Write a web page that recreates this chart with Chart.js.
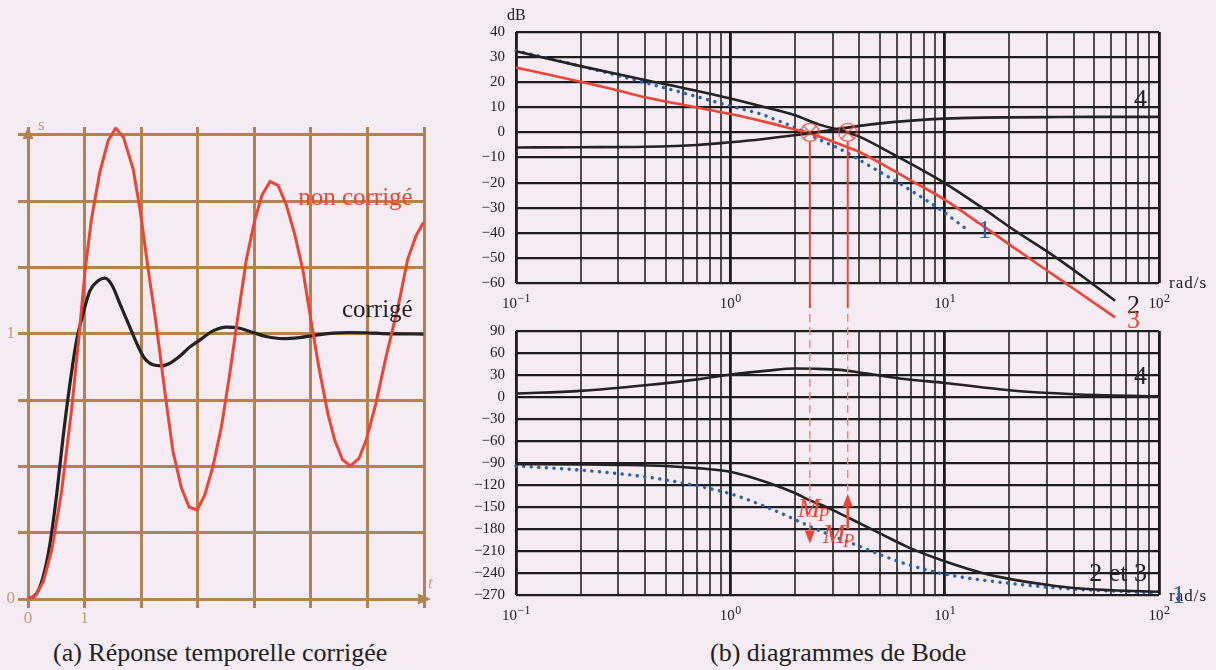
<!DOCTYPE html>
<html lang="fr">
<head>
<meta charset="utf-8">
<title>Correction : réponse temporelle et Bode</title>
<script src="https://cdn.jsdelivr.net/npm/chart.js@4.4.1/dist/chart.umd.min.js"></script>
<style>
html,body{margin:0;padding:0;background:#f5ebf3;}
#page{position:relative;width:1216px;height:670px;overflow:hidden;}
#page canvas{position:absolute;}
.cap{position:absolute;top:640px;font:26px/26px "Liberation Serif",serif;color:#222;white-space:nowrap;}
</style>
</head>
<body>
<div id="page">
  <canvas id="timeChart" width="460" height="630" style="left:0;top:0"></canvas>
  <canvas id="magChart" width="756" height="335" style="left:460px;top:0"></canvas>
  <canvas id="phaseChart" width="756" height="320" style="left:460px;top:310px"></canvas>
  <div class="cap" style="left:53px">(a) Réponse temporelle corrigée</div>
  <div class="cap" style="left:710px">(b) diagrammes de Bode</div>
</div>
<script>
// ---- step response (t, s) ----
const T_TICKS = [0,1,2,3,4,5,6,7];
const S_TICKS = [0,0.25,0.5,0.75,1,1.25,1.5,1.75];
const T_RED = [0,0.13,0.27,0.42,0.59,0.77,0.89,1.01,1.12,1.27,1.42,1.55,1.69,1.86,1.98,2.12,2.27,2.42,2.56,2.71,2.85,2.99,3.12,3.27,3.42,3.56,3.71,3.86,4.01,4.14,4.28,4.42,4.56,4.71,4.86,5.01,5.15,5.3,5.42,5.56,5.7,5.85,5.98,6.15,6.33,6.54,6.71,6.86,6.99];
const S_RED = [0,0.012,0.065,0.185,0.40,0.713,0.965,1.24,1.43,1.61,1.73,1.776,1.74,1.62,1.47,1.25,1.03,0.78,0.56,0.42,0.346,0.336,0.39,0.50,0.65,0.84,1.065,1.28,1.43,1.525,1.575,1.56,1.49,1.38,1.24,1.04,0.864,0.70,0.60,0.525,0.502,0.53,0.60,0.738,0.914,1.10,1.28,1.37,1.42];
const T_BLK = [0,0.15,0.27,0.39,0.51,0.62,0.74,0.86,0.98,1.09,1.24,1.36,1.48,1.62,1.77,1.92,2.06,2.21,2.36,2.51,2.68,2.86,3.04,3.27,3.51,3.74,3.98,4.21,4.51,4.8,5.09,5.39,5.68,5.98,6.27,6.56,6.99];
const S_BLK = [0,0.02,0.085,0.21,0.40,0.61,0.81,0.977,1.08,1.16,1.20,1.21,1.185,1.116,1.04,0.965,0.908,0.883,0.879,0.889,0.915,0.95,0.977,1.011,1.025,1.021,1.005,0.99,0.982,0.986,0.995,1.003,1.005,1.004,1.001,1.0,0.999];

// ---- Bode (rad/s) ----
const W_TICKS = [0.1,0.2,0.3,0.4,0.5,0.6,0.7,0.8,0.9,1,2,3,4,5,6,7,8,9,10,20,30,40,50,60,70,80,90,100];
const DB_TICKS = [-60,-50,-40,-30,-20,-10,0,10,20,30,40];
const DEG_TICKS = [-270,-240,-210,-180,-150,-120,-90,-60,-30,0,30,60,90];
// gain curves
const W_G1 = [0.1,0.15,0.2,0.3,0.4,0.6,0.8,1,1.4,1.7,2,2.24,2.67,3.14,3.55,3.9,4.64,6.65,9.55,12.4];
const G1   = [32.5,29.0,26.4,22.6,19.8,15.8,12.8,10.5,7.2,4.4,2.0,0,-3.3,-6.0,-8.4,-10.4,-14.2,-22.1,-30.8,-38.0];
const W_G2 = [0.1,0.2,0.4,0.67,1,1.5,2,2.6,3.53,4,5.8,10,14.6,20.9,32,44.3,62.4];
const G2   = [32.3,26.4,20.9,16.9,13.5,9.7,6.8,3.1,0,-1.7,-8.9,-20.2,-29.4,-38.7,-49.0,-57.6,-67.1];
const W_G3 = [0.1,0.15,0.2,0.3,0.4,0.6,0.8,1,1.5,2,2.35,3,3.5,4,5,6.65,8,10,14.6,20,30,40,62.4];
const G3   = [25.8,22.6,20.2,16.7,14.0,11.0,8.9,7.3,3.9,1.2,-0.3,-3.6,-5.8,-7.8,-12.2,-18.2,-22.0,-26.8,-36.4,-44.6,-55.0,-62.3,-73.7];
const W_G4 = [0.1,0.2,0.4,0.7,1,1.4,2,2.5,3.3,4,5,7,10,15,20,30,50,100];
const G4   = [-6.0,-5.9,-5.7,-5.0,-3.9,-2.7,-1.1,0,1.6,2.6,3.6,4.7,5.5,5.9,6.0,6.1,6.2,6.2];
// phase curves
const W_P1 = [0.1,0.2,0.4,0.67,1,1.5,2,2.5,3,3.5,4,5,6.65,10,20,40,100];
const P1   = [-94,-99.7,-108.8,-120,-132,-151,-167,-180,-189.5,-197,-203.5,-215,-228,-241.5,-254,-262,-267];
const W_P23 = [0.1,0.2,0.3,0.5,0.7,1,1.5,2,2.35,2.8,3.25,3.55,4,5,6.65,10,15,20,30,40,60,100];
const P23   = [-91.5,-92,-92.5,-94,-97,-102,-117,-131,-141,-150,-159,-164.5,-172,-186,-204,-224,-240,-248,-256,-260.5,-263.5,-265.5];
const W_P4 = [0.1,0.2,0.4,0.7,1,1.5,2,2.5,3.25,4,4.64,6.65,10,20,40,100];
const P4   = [4.7,8.3,16,24,30.6,36,38.8,38.5,37,33.5,30.6,24.2,19.2,9.2,3.8,1];
// crossover pulsations and phase margins (from -180°)
const W_CROSS = [2.35, 3.53];
const PM_FROM = [-180, -180];
const PM_TO   = [-200, -132];

const SERIF = '"Liberation Serif","Times New Roman",serif';
const INK = '#222', RED = '#ee4433', BLUE = '#2462b3', BROWN = '#b3834f', BROWN_TXT = '#c49c74';

Chart.defaults.font.family = SERIF;

const pts = (xs, ys) => xs.map((v,i)=>({x:v, y:ys[i]}));
const isDecade = v => Math.abs(Math.log10(v) - Math.round(Math.log10(v))) < 1e-9;
const fmt = v => v < 0 ? '\u2212' + Math.abs(v) : String(v);

function txt(ctx, s, x, y, o={}){
  ctx.save();
  ctx.font = (o.style||'') + ' ' + (o.size||26) + 'px ' + SERIF;
  ctx.fillStyle = o.color||INK; ctx.textAlign = o.align||'left'; ctx.textBaseline = 'alphabetic';
  if(o.spacing) ctx.letterSpacing = o.spacing + 'px';
  ctx.fillText(s, x, y); ctx.restore();
}
function pow10(ctx, x, y, e){
  const sup = e < 0 ? '\u2212' + (-e) : String(e);
  ctx.save(); ctx.fillStyle = INK; ctx.textBaseline = 'alphabetic'; ctx.textAlign = 'left';
  ctx.font = '15px ' + SERIF; const bw = ctx.measureText('10').width;
  ctx.font = '12px ' + SERIF; const sw = ctx.measureText(sup).width;
  const x0 = x - (bw + sw)/2;
  ctx.font = '15px ' + SERIF; ctx.fillText('10', x0, y);
  ctx.font = '12px ' + SERIF; ctx.fillText(sup, x0 + bw + 0.5, y - 6.5);
  ctx.restore();
}
function mp(ctx, x, y){
  ctx.save(); ctx.fillStyle = RED; ctx.textBaseline = 'alphabetic';
  ctx.font = 'italic 27px ' + SERIF; ctx.fillText('M', x, y);
  const w = ctx.measureText('M').width;
  ctx.font = 'italic 18px ' + SERIF; ctx.fillText('P', x + w - 2, y + 4);
  ctx.restore();
}
function vArrow(ctx, x, y0, y1){
  const dir = Math.sign(y1 - y0), hl = 13, hw = 5;
  ctx.save(); ctx.strokeStyle = RED; ctx.fillStyle = RED; ctx.lineWidth = 2.5;
  if(Math.abs(y1 - y0) > hl){ ctx.beginPath(); ctx.moveTo(x, y0); ctx.lineTo(x, y1 - dir*hl); ctx.stroke(); }
  ctx.beginPath(); ctx.moveTo(x, y1); ctx.lineTo(x - hw, y1 - dir*hl); ctx.lineTo(x + hw, y1 - dir*hl); ctx.closePath(); ctx.fill();
  ctx.restore();
}

// ---------- (a) time response ----------
const timeDecor = {
  id: 'timeDecor',
  afterDatasetsDraw(chart){
    const {ctx, chartArea:a, scales:{x, y}} = chart;
    const x0 = x.getPixelForValue(0), y0 = y.getPixelForValue(0);
    ctx.save();
    ctx.fillStyle = BROWN; ctx.strokeStyle = BROWN; ctx.lineWidth = 3;
    ctx.beginPath(); ctx.moveTo(x0, a.top); ctx.lineTo(x0 - 5.5, a.top + 12); ctx.lineTo(x0 + 5.5, a.top + 12); ctx.closePath(); ctx.fill();
    ctx.beginPath(); ctx.moveTo(a.right, y0); ctx.lineTo(a.right + 4, y0); ctx.stroke();
    ctx.beginPath(); ctx.moveTo(a.right + 7, y0); ctx.lineTo(a.right - 6, y0 - 5.5); ctx.lineTo(a.right - 6, y0 + 5.5); ctx.closePath(); ctx.fill();
    ctx.restore();
    txt(ctx, 's', x0 + 10, a.top + 3, {size:17, color:BROWN_TXT});
    txt(ctx, 't', a.right + 4, y0 - 11, {size:17, color:BROWN_TXT, style:'italic'});
    txt(ctx, 'non corrigé', x.getPixelForValue(6.8), y.getPixelForValue(1.487), {size:25, color:RED, align:'right'});
    txt(ctx, 'corrigé', x.getPixelForValue(6.8), y.getPixelForValue(1.065), {size:25, color:INK, align:'right'});
  }
};

new Chart(document.getElementById('timeChart'), {
  type: 'line',
  data: { datasets: [
    {data: pts(T_RED, S_RED), borderColor: RED, borderWidth: 3, tension: 0},
    {data: pts(T_BLK, S_BLK), borderColor: INK, borderWidth: 3.2, cubicInterpolationMode: 'monotone'}
  ]},
  options: {
    responsive:false, animation:false, events:[],
    layout:{padding:{left:0, top:127, right:36, bottom:0}},
    plugins:{legend:{display:false}, tooltip:{enabled:false}},
    elements:{point:{radius:0}},
    scales:{
      x:{type:'linear', min:0, max:7,
        afterBuildTicks:s=>{s.ticks = T_TICKS.map(v=>({value:v}));},
        afterFit:s=>{s.height = 31;},
        border:{display:false},
        grid:{color:BROWN, lineWidth:3, tickLength:9},
        ticks:{autoSkip:false, maxRotation:0, padding:0, color:BROWN_TXT, font:{size:17}, callback:v=> v<=1 ? String(v) : ''}},
      y:{min:0, max:1.78,
        afterBuildTicks:s=>{s.ticks = S_TICKS.map(v=>({value:v}));},
        afterFit:s=>{s.width = 28;},
        border:{display:false},
        grid:{color:BROWN, lineWidth:3, tickLength:10},
        ticks:{autoSkip:false, padding:3, color:BROWN_TXT, font:{size:17}, callback:v=> (v===0||v===1) ? String(v) : ''}}
    }
  },
  plugins:[timeDecor]
});

// ---------- (b) Bode ----------
const curve = (xs, ys, color, extra={}) => Object.assign({
  data: pts(xs, ys), borderColor: color, borderWidth: 2.6, pointRadius: 0,
  cubicInterpolationMode: 'monotone', clip: false
}, extra);
const dotted = {borderDash:[0.1, 7.5], borderCapStyle:'round', borderWidth:3.4};

function bodeChart(id, yMin, yMax, yTicks, pad, xh, datasets, decor){
  return new Chart(document.getElementById(id), {
    type: 'line',
    data: {datasets},
    options: {
      responsive:false, animation:false, events:[],
      layout:{padding:pad},
      plugins:{legend:{display:false}, tooltip:{enabled:false}},
      elements:{point:{radius:0}},
      scales:{
        x:{type:'logarithmic', min:0.1, max:100,
          afterBuildTicks:s=>{s.ticks = W_TICKS.map(v=>({value:v}));},
          afterFit:s=>{s.height = xh;},
          border:{display:false},
          grid:{drawTicks:false,
            color:c=> c.tick && isDecade(c.tick.value) ? '#1a1a1a' : '#4e4e4e',
            lineWidth:c=> c.tick && isDecade(c.tick.value) ? 2.8 : 2},
          ticks:{display:false}},
        y:{min:yMin, max:yMax,
          afterBuildTicks:s=>{s.ticks = yTicks.map(v=>({value:v}));},
          afterFit:s=>{s.width = 56;},
          border:{display:false},
          grid:{drawTicks:false, color:'#1c1c1c', lineWidth:2.2},
          ticks:{autoSkip:false, padding:11, color:INK, font:{size:15}, callback:v=>fmt(v)}}
      }
    },
    plugins:[decor]
  });
}

const magDecor = {
  id: 'magDecor',
  afterDatasetsDraw(chart){
    const {ctx, chartArea:a, scales:{x, y}} = chart;
    W_TICKS.filter(isDecade).forEach(v=>pow10(ctx, x.getPixelForValue(v), a.bottom + 25, Math.round(Math.log10(v))));
    txt(ctx, 'dB', a.left - 9, 20, {size:16});
    txt(ctx, 'rad/s', a.right + 10, a.bottom + 5, {size:17, spacing:1});
    txt(ctx, '4', a.right - 12, y.getPixelForValue(10), {align:'right'});
    txt(ctx, '1', x.getPixelForValue(14.3), y.getPixelForValue(-42), {color:BLUE});
    txt(ctx, '2', x.getPixelForValue(71), y.getPixelForValue(-71.8));
    txt(ctx, '3', x.getPixelForValue(71), y.getPixelForValue(-77.8), {color:RED});
    // crossover marks and their drop lines
    const y0 = y.getPixelForValue(0), r = 9, d = r*Math.SQRT1_2;
    ctx.save();
    W_CROSS.forEach(w=>{
      const px = x.getPixelForValue(w);
      ctx.strokeStyle = 'rgba(238,68,51,0.85)'; ctx.lineWidth = 1.2;
      ctx.beginPath(); ctx.arc(px, y0, r, 0, 2*Math.PI); ctx.stroke();
      ctx.beginPath(); ctx.moveTo(px-d, y0-d); ctx.lineTo(px+d, y0+d); ctx.moveTo(px-d, y0+d); ctx.lineTo(px+d, y0-d); ctx.stroke();
      ctx.strokeStyle = RED; ctx.lineWidth = 2;
      ctx.beginPath(); ctx.moveTo(px, y0 + r); ctx.lineTo(px, a.bottom + 25); ctx.stroke();
    });
    ctx.restore();
  }
};

const phaseDecor = {
  id: 'phaseDecor',
  afterDatasetsDraw(chart){
    const {ctx, chartArea:a, scales:{x, y}} = chart;
    W_TICKS.filter(isDecade).forEach(v=>pow10(ctx, x.getPixelForValue(v), a.bottom + 25, Math.round(Math.log10(v))));
    txt(ctx, 'rad/s', a.right + 10, a.bottom + 6, {size:17, spacing:1});
    txt(ctx, '4', a.right - 12, y.getPixelForValue(17.4), {align:'right'});
    txt(ctx, '2 et 3', a.right - 12, y.getPixelForValue(-251), {align:'right'});
    txt(ctx, '1', a.right + 13, y.getPixelForValue(-281), {color:BLUE});
    ctx.save();
    ctx.strokeStyle = '#f0806f'; ctx.lineWidth = 1.4; ctx.setLineDash([8, 5]);
    W_CROSS.forEach((w, i)=>{
      const px = x.getPixelForValue(w);
      const yEnd = Math.min(y.getPixelForValue(PM_FROM[i]), y.getPixelForValue(PM_TO[i]));
      ctx.beginPath(); ctx.moveTo(px, 4); ctx.lineTo(px, yEnd); ctx.stroke();
    });
    ctx.restore();
    W_CROSS.forEach((w, i)=>vArrow(ctx, x.getPixelForValue(w), y.getPixelForValue(PM_FROM[i]), y.getPixelForValue(PM_TO[i])));
    mp(ctx, x.getPixelForValue(W_CROSS[0]) - 12, y.getPixelForValue(-164));
    mp(ctx, x.getPixelForValue(W_CROSS[1]) - 25, y.getPixelForValue(-199.5));
  }
};

bodeChart('magChart', -60, 40, DB_TICKS, {left:0, top:32, right:57, bottom:0}, 52, [
  curve(W_G2, G2, INK),
  curve(W_G4, G4, INK),
  curve(W_G3, G3, RED),
  curve(W_G1, G1, BLUE, dotted)
], magDecor);

bodeChart('phaseChart', -270, 90, DEG_TICKS, {left:0, top:21, right:57, bottom:0}, 35, [
  curve(W_P4, P4, INK),
  curve(W_P23, P23, INK),
  curve(W_P1, P1, BLUE, dotted)
], phaseDecor);
</script>
</body>
</html>
